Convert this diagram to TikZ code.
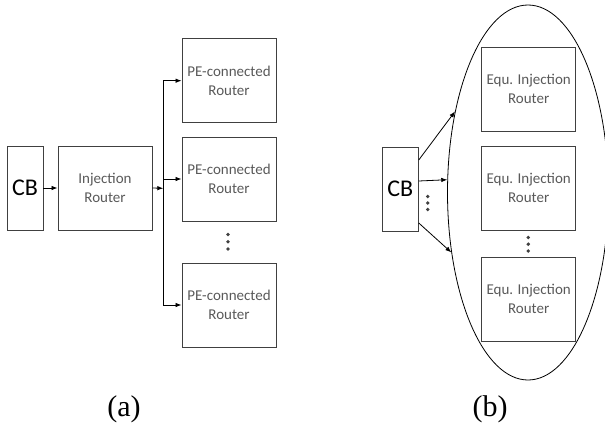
\documentclass[tikz,border=0pt]{standalone}
\usepackage{fontspec}
\setmainfont{Liberation Serif}
\newfontfamily\boxfont{Carlito}
\usetikzlibrary{arrows.meta,shapes.geometric}
\definecolor{txtgray}{RGB}{89,89,89}
\definecolor{linegray}{RGB}{64,64,64}
\tikzset{
  rbox/.style={draw=linegray,line width=0.9pt,inner sep=0pt,minimum width=94pt,minimum height=84pt,align=center,font=\boxfont\fontsize{15}{19}\selectfont,text=txtgray},
  cbbox/.style={draw=linegray,line width=0.9pt,inner sep=0pt,minimum width=36pt,minimum height=84pt,font=\boxfont\fontsize{24}{28}\selectfont,text=black},
  arr/.style={line width=0.8pt,-{Latex[length=6pt,width=4.5pt]}},
  wire/.style={line width=0.8pt},
  dotmark/.style={circle,fill=linegray,inner sep=0pt,minimum size=3.8pt},
  captxt/.style={font=\fontsize{30}{33}\selectfont}
}
\begin{document}
\begin{tikzpicture}[x=1pt,y=-1pt]
\useasboundingbox (0,0) rectangle (605,431);
\clip (0,0) rectangle (605,431);
% (a)
\node[cbbox] (cba) at (25,188) {CB};
\node[rbox] (inj) at (105,188) {Injection\\Router};
\node[rbox] (pe1) at (229,80.7) {PE-connected\\Router};
\node[rbox] (pe2) at (229,179) {PE-connected\\Router};
\node[rbox] (pe3) at (229,305) {PE-connected\\Router};
\coordinate (bt) at (163.3,80.7);
\coordinate (bb) at (163.3,305);
\coordinate (bin) at (163.3,188.3);
\draw[arr] (cba.east) -- (inj.west);
\draw[arr] (inj.east) -- (bin);
\draw[wire] (bt) -- (bb);
\draw[arr] (bt) -- (pe1.west);
\draw[arr] (bt |- pe2.west) -- (pe2.west);
\draw[arr] (bb) -- (pe3.west);
\node[dotmark] (da1) at (228,234.5) {};
\node[dotmark] (da2) at (228,241.8) {};
\node[dotmark] (da3) at (228,249) {};
\node[captxt] (capa) at (124,409) {(a)};
% (b)
\node[ellipse,draw=black,line width=0.8pt,inner sep=0pt,minimum width=161pt,minimum height=375pt] (ell) at (528,192.5) {};
\node[cbbox] (cbb) at (400.3,189) {CB};
\node[rbox] (eq1) at (528.7,89) {Equ. Injection\\Router};
\node[rbox] (eq2) at (528.7,188) {Equ. Injection\\Router};
\node[rbox] (eq3) at (528.7,299) {Equ. Injection\\Router};
\draw[arr] ([yshift=29pt]cbb.east) -- (ell.132.6);
\draw[arr] ([yshift=8pt]cbb.east) -- (ell.171.8);
\draw[arr] ([yshift=-34pt]cbb.east) -- (ell.218.7);
\node[dotmark] (db1) at (427.7,196.5) {};
\node[dotmark] (db2) at (427.7,203) {};
\node[dotmark] (db3) at (427.7,209.5) {};
\node[dotmark] (de1) at (528.3,237.5) {};
\node[dotmark] (de2) at (528.3,244.2) {};
\node[dotmark] (de3) at (528.3,251) {};
\node[captxt] (capb) at (490,409) {(b)};
\end{tikzpicture}
\end{document}
